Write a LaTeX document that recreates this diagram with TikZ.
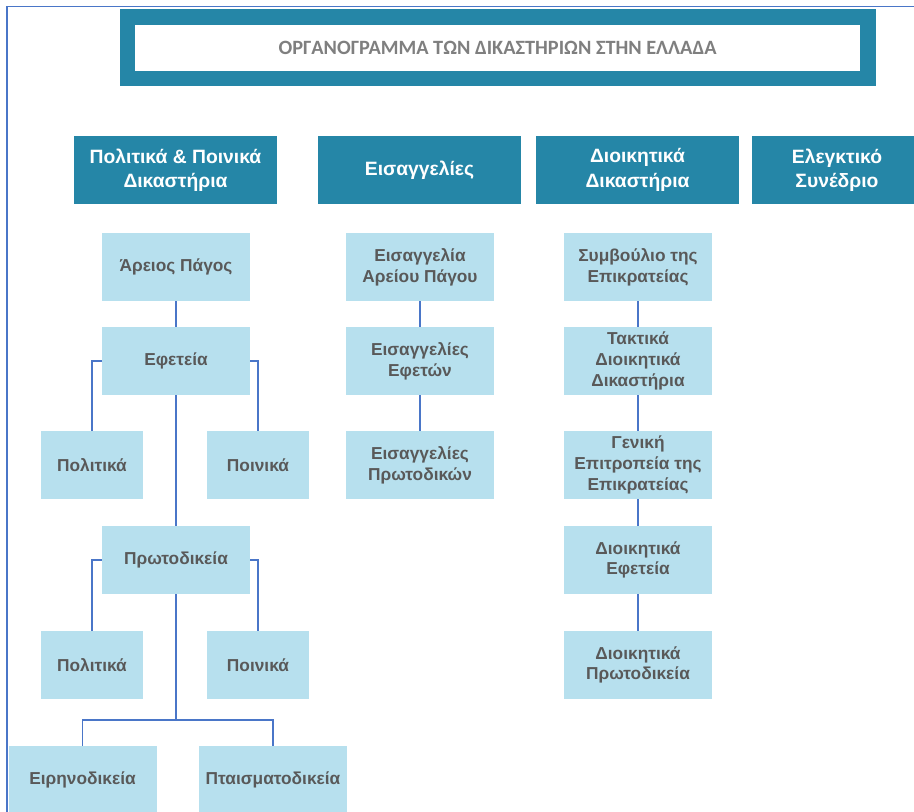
\documentclass[tikz,border=0pt]{standalone}
\usepackage{fontspec}
\setmainfont{Liberation Sans}
\newfontfamily\titlefont{Carlito}
\usepackage{xcolor}
\definecolor{headblue}{HTML}{2586A7}
\definecolor{boxblue}{HTML}{B7E0EE}
\definecolor{textgray}{HTML}{595959}
\definecolor{titlegray}{HTML}{7F7F7F}
\definecolor{lineblue}{HTML}{4A76C8}

\begin{document}
\begin{tikzpicture}[x=1pt,y=-1pt,
	head/.style={fill=headblue,text=white,font=\bfseries\fontsize{19.3}{24.3}\selectfont,minimum width=203pt,minimum height=68pt,align=center,inner sep=0pt},
	court/.style={fill=boxblue,text=textgray,font=\bfseries\fontsize{17.3}{20.8}\selectfont,minimum width=148pt,minimum height=68pt,align=center,inner sep=0pt},
	link/.style={draw=lineblue,line width=1.5pt}]
	\useasboundingbox (0,0) rectangle (914,812);
	\clip (0,0) rectangle (914,812);
	\draw[lineblue,line width=1.5pt] (7,830) -- (7,6.5) -- (930,6.5);

	\node[fill=headblue,minimum width=756pt,minimum height=77pt,inner sep=0pt] (titleframe) at (498,47.5) {};
	\node[fill=white,minimum width=725pt,minimum height=46pt,inner sep=0pt,text=titlegray,font=\titlefont\bfseries\fontsize{20.3}{24}\selectfont] (title) at (497.5,48) {ΟΡΓΑΝΟΓΡΑΜΜΑ ΤΩΝ ΔΙΚΑΣΤΗΡΙΩΝ ΣΤΗΝ ΕΛΛΑΔΑ};

	\node[head] (civil) at (175.5,170) {Πολιτικά \& Ποινικά\\Δικαστήρια};
	\node[head] (prosec) at (419.5,170) {Εισαγγελίες};
	\node[head] (admin) at (637.5,170) {Διοικητικά\\Δικαστήρια};
	\node[head,minimum width=170pt] (audit) at (837,170) {Ελεγκτικό\\Συνέδριο};

	\node[court] (areios) at (176,267) {Άρειος Πάγος};
	\node[court] (efeteia) at (176,361) {Εφετεία};
	\node[court,minimum width=102pt] (efpol) at (92,465) {Πολιτικά};
	\node[court,minimum width=102pt] (efpoin) at (258,465) {Ποινικά};
	\node[court] (protod) at (176,560) {Πρωτοδικεία};
	\node[court,minimum width=102pt] (prpol) at (92,665) {Πολιτικά};
	\node[court,minimum width=102pt] (prpoin) at (258,665) {Ποινικά};
	\node[court] (eirin) at (82.5,780) {Ειρηνοδικεία};
	\node[court] (ptaism) at (273,780) {Πταισματοδικεία};
	\coordinate (split) at (176,720);

	\node[court] (eisareios) at (420,267) {Εισαγγελία\\Αρείου Πάγου};
	\node[court] (eisefet) at (420,361) {Εισαγγελίες\\Εφετών};
	\node[court] (eisprot) at (420,465) {Εισαγγελίες\\Πρωτοδικών};

	\node[court] (ste) at (638,267) {Συμβούλιο της\\Επικρατείας};
	\node[court] (tdd) at (638,361) {Τακτικά\\Διοικητικά\\Δικαστήρια};
	\node[court] (gen) at (638,465) {Γενική\\Επιτροπεία της\\Επικρατείας};
	\node[court] (difet) at (638,560) {Διοικητικά\\Εφετεία};
	\node[court] (diprot) at (638,665) {Διοικητικά\\Πρωτοδικεία};

	\draw[link] (areios.south) -- (efeteia.north);
	\draw[link] (efeteia.west) -| (efpol.north);
	\draw[link] (efeteia.east) -| (efpoin.north);
	\draw[link] (efeteia.south) -- (protod.north);
	\draw[link] (protod.west) -| (prpol.north);
	\draw[link] (protod.east) -| (prpoin.north);
	\draw[link] (protod.south) -- (split) -| (eirin.north);
	\draw[link] (split) -| (ptaism.north);

	\draw[link] (eisareios.south) -- (eisefet.north);
	\draw[link] (eisefet.south) -- (eisprot.north);

	\draw[link] (ste.south) -- (tdd.north);
	\draw[link] (tdd.south) -- (gen.north);
	\draw[link] (gen.south) -- (difet.north);
	\draw[link] (difet.south) -- (diprot.north);
\end{tikzpicture}
\end{document}
